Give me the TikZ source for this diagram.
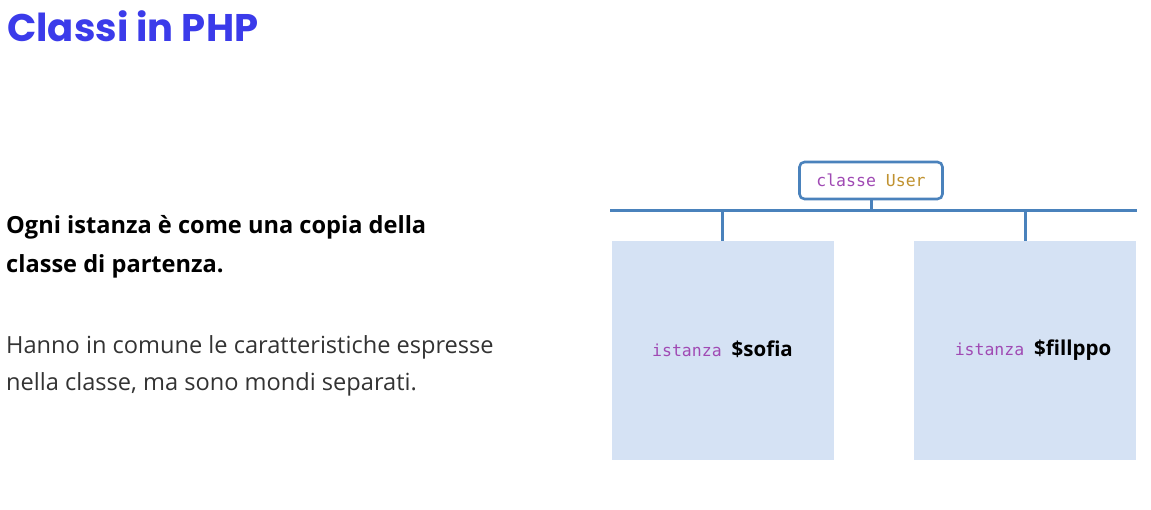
\documentclass[tikz,border=0pt]{standalone}
\usepackage{fontspec}
\setmainfont{Open Sans}
\setmonofont{DejaVu Sans Mono}
\newfontfamily\titlefont{Poppins}
\definecolor{titleblue}{HTML}{3B3BEA}
\definecolor{linkblue}{HTML}{4A82BC}
\definecolor{boxfill}{HTML}{D5E2F4}
\definecolor{kwpurple}{HTML}{A04AB4}
\definecolor{kwgold}{HTML}{C0922F}
\definecolor{bodygray}{HTML}{333333}
\begin{document}
\begin{tikzpicture}[x=1pt,y=-1pt,
  conn/.style={draw=linkblue,line width=3pt},
  classbox/.style={draw=linkblue,line width=2.6pt,rounded corners=5pt,fill=white,minimum width=143pt,minimum height=37pt,inner sep=0pt},
  instbox/.style={fill=boxfill,minimum width=222pt,minimum height=219pt,inner sep=0pt},
  leadline/.style={anchor=base west,inner sep=0pt,font=\fontsize{23.6}{28}\selectfont\bfseries},
  bodyline/.style={anchor=base west,inner sep=0pt,text=bodygray,font=\fontsize{23.6}{28}\selectfont},
]
\useasboundingbox[fill=white] (0,0) rectangle (1151,510);
\node[anchor=base west,inner sep=0pt,text=titleblue,font=\titlefont\fontsize{38.5}{42}\selectfont\bfseries] (title) at (7,42) {Classi in PHP};
\node[leadline] (lead1) at (6,234) {Ogni istanza è come una copia della};
\node[leadline] (lead2) at (6,273) {classe di partenza.};
\node[bodyline] (body1) at (6,354) {Hanno in comune le caratteristiche espresse};
\node[bodyline] (body2) at (6,391) {nella classe, ma sono mondi separati.};
\node[classbox] (user) at (871,180.5) {\fontsize{16.5}{18}\selectfont\ttfamily\textcolor{kwpurple}{classe} \textcolor{kwgold}{User}};
\node[instbox] (sofia) at (722.5,350.5) {\raisebox{4pt}{\fontsize{16.5}{18}\selectfont\ttfamily\textcolor{kwpurple}{istanza}\ \rmfamily\fontsize{20.5}{22}\selectfont\bfseries \$sofia}};
\node[instbox] (filippo) at (1025,350.5) {\hspace{16pt}\raisebox{4pt}{\fontsize{16.5}{18}\selectfont\ttfamily\textcolor{kwpurple}{istanza}\ \rmfamily\fontsize{20.5}{22}\selectfont\bfseries \$fillppo}};
\coordinate (busL) at (610,211);
\coordinate (busR) at (1137,211);
\draw[conn] (busL) -- (busR);
\draw[conn] (user.south) -- (user.south |- busL);
\draw[conn] (sofia.north |- busL) -- (sofia.north);
\draw[conn] (filippo.north |- busL) -- (filippo.north);
\end{tikzpicture}
\end{document}
